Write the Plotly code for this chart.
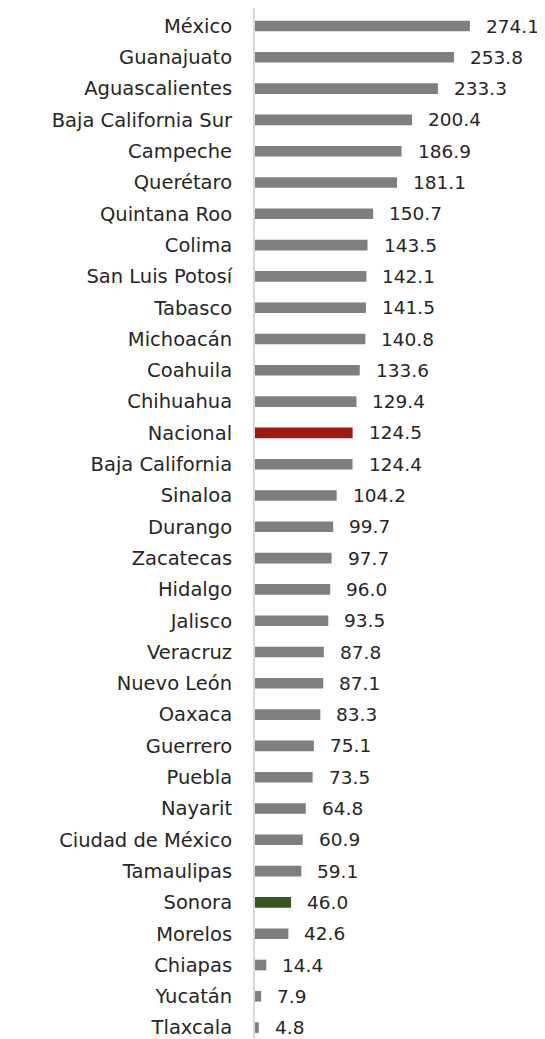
import plotly.graph_objects as go

estados = ["México", "Guanajuato", "Aguascalientes", "Baja California Sur", "Campeche",
           "Querétaro", "Quintana Roo", "Colima", "San Luis Potosí", "Tabasco",
           "Michoacán", "Coahuila", "Chihuahua", "Nacional", "Baja California",
           "Sinaloa", "Durango", "Zacatecas", "Hidalgo", "Jalisco", "Veracruz",
           "Nuevo León", "Oaxaca", "Guerrero", "Puebla", "Nayarit",
           "Ciudad de México", "Tamaulipas", "Sonora", "Morelos", "Chiapas",
           "Yucatán", "Tlaxcala"]
valores = [274.1, 253.8, 233.3, 200.4, 186.9, 181.1, 150.7, 143.5, 142.1, 141.5,
           140.8, 133.6, 129.4, 124.5, 124.4, 104.2, 99.7, 97.7, 96.0, 93.5, 87.8,
           87.1, 83.3, 75.1, 73.5, 64.8, 60.9, 59.1, 46.0, 42.6, 14.4, 7.9, 4.8]

GRIS = "#7f7f7f"
ROJO = "#9a1a14"
VERDE = "#38561f"
colores = [ROJO if e == "Nacional" else VERDE if e == "Sonora" else GRIS for e in estados]

FONT = "DejaVu Sans"
TXT = "#262626"

fig = go.Figure(go.Bar(
    x=valores, y=estados, orientation="h",
    marker=dict(color=colores, line=dict(width=0)),
    width=0.34,
))

for e, v in zip(estados, valores):
    fig.add_annotation(x=v, y=e, text=f"{v:.1f}", showarrow=False,
                       xanchor="left", yanchor="middle", xshift=14,
                       font=dict(family=FONT, size=18.5, color=TXT))

# page body has an 8px margin, so the figure is offset by 8px
OFF = 8
W, H = 545 - OFF, 1039 - OFF
left, right = 255 - OFF, 4
top, bottom = 0, 0
fig.update_layout(
    width=W, height=H,
    margin=dict(l=left, r=right, t=top, b=bottom, autoexpand=False),
    paper_bgcolor="white", plot_bgcolor="white",
    showlegend=False,
    font=dict(family=FONT, size=19.5, color=TXT),
)
ppu = 31.3  # pixels per category
plot_h = H - top - bottom
r_top = -((26 - OFF) - top) / ppu
r_bot = r_top + plot_h / ppu
fig.update_xaxes(range=[0, (W - left - right) / 0.784], visible=False, automargin=False)
fig.update_yaxes(
    type="category", categoryorder="array", categoryarray=estados,
    range=[r_bot, r_top], automargin=False,
    showline=True, linecolor="#d9d9d9", linewidth=2,
    showgrid=False, ticks="", ticklabelstandoff=17,
    tickfont=dict(family=FONT, size=19.5, color=TXT),
)
fig.write_html("out.html")
